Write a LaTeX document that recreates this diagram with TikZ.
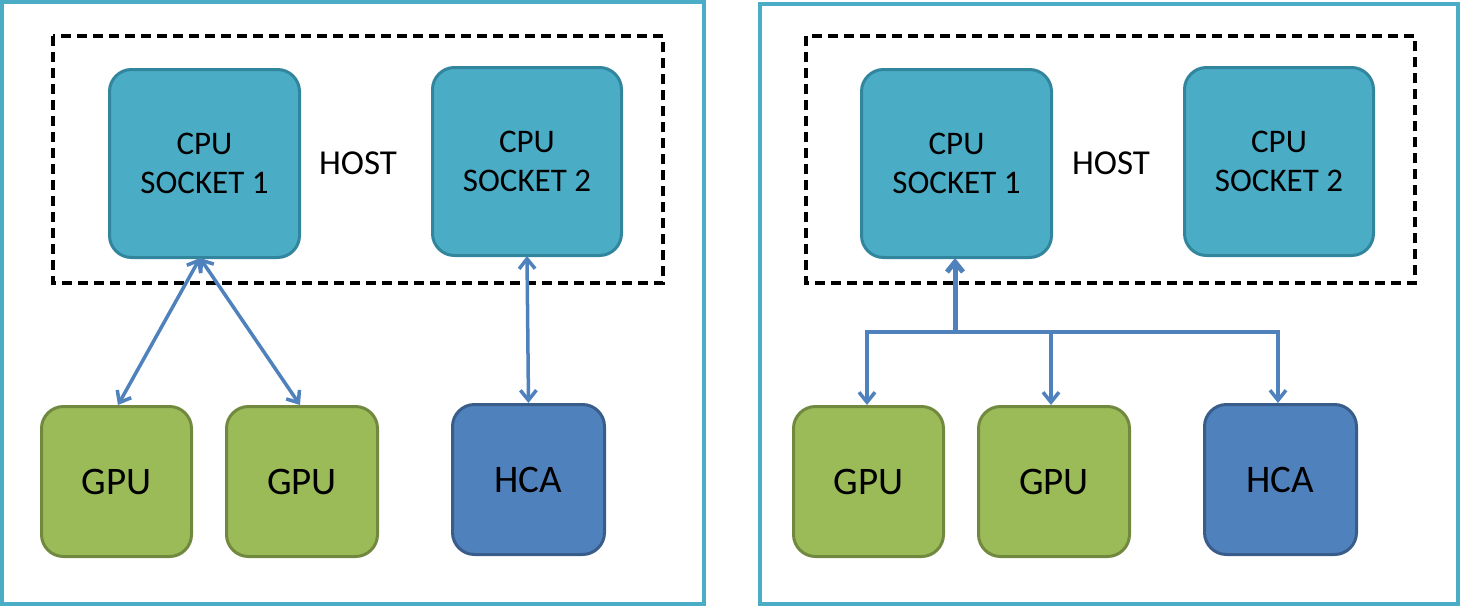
\documentclass[tikz,border=0pt]{standalone}
\usepackage{fontspec}
\setmainfont{Carlito}
\usetikzlibrary{arrows.meta}
\definecolor{frame}{RGB}{75,172,198}
\definecolor{cpuf}{RGB}{75,172,198}
\definecolor{cpud}{RGB}{49,133,156}
\definecolor{gpuf}{RGB}{155,187,89}
\definecolor{gpud}{RGB}{113,137,63}
\definecolor{hcaf}{RGB}{79,129,189}
\definecolor{hcad}{RGB}{56,93,138}
\definecolor{arr}{RGB}{79,129,189}
\begin{document}
\begin{tikzpicture}[x=1pt,y=-1pt,
  box/.style={draw,line width=3pt,rounded corners=22pt,anchor=north west,inner sep=0pt},
  cpu/.style={box,fill=cpuf,draw=cpud},
  gpu/.style={box,fill=gpuf,draw=gpud},
  hca/.style={box,fill=hcaf,draw=hcad},
  ctext/.style={align=center,font=\fontsize{33}{39}\selectfont},
  btext/.style={font=\fontsize{39}{44}\selectfont},
  fr/.style={draw=frame,line width=3.5pt},
  host/.style={draw,line width=3.5pt,dash pattern=on 10pt off 6pt},
  link/.style={draw=arr,line width=3.5pt,{Straight Barb[length=10pt,width=16pt]}-{Straight Barb[length=10pt,width=16pt]}},
  down/.style={draw=arr,line width=3.5pt,-{Straight Barb[length=10pt,width=16pt]}},
  lbl/.style={font=\fontsize{35}{40}\selectfont}]
\useasboundingbox (0,0) rectangle (1460,606);
\draw[fr] (2,2) rectangle (704,604);
\draw[fr] (760,4) rectangle (1458,604);
% left
\draw[host] (53,36) rectangle (663,283);
\node[cpu,minimum width=190pt,minimum height=188pt] (c1) at (108,68) {};
\node[ctext] at (c1.center) {CPU\\SOCKET 1};
\node[cpu,minimum width=189pt,minimum height=188pt] (c2) at (431,66) {};
\node[ctext] at (c2.center) {CPU\\SOCKET 2};
\node[lbl] (h1) at (358,163) {HOST};
\node[gpu,minimum width=150pt,minimum height=150pt] (g1) at (40,405) {};
\node[btext] at (g1.center) {GPU};
\node[gpu,minimum width=151pt,minimum height=150pt] (g2) at (225,405) {};
\node[btext] at (g2.center) {GPU};
\node[hca,minimum width=152pt,minimum height=150pt] (hc) at (451,403) {};
\node[btext] at (hc.center) {HCA};
\coordinate (c1b) at (200,258);
\draw[link] (c1b) -- (118,405);
\draw[link] (c1b) -- (300,405);
\draw[link] (527,256) -- (hc.north);
% right
\draw[host] (806,36) rectangle (1415,283);
\node[cpu,minimum width=190pt,minimum height=188pt] (d1) at (860,68) {};
\node[ctext] at (d1.center) {CPU\\SOCKET 1};
\node[cpu,minimum width=189pt,minimum height=188pt] (d2) at (1183,66) {};
\node[ctext] at (d2.center) {CPU\\SOCKET 2};
\node[lbl] (h2) at (1111,163) {HOST};
\node[gpu,minimum width=150pt,minimum height=150pt] (k1) at (792,405) {};
\node[btext] at (k1.center) {GPU};
\node[gpu,minimum width=151pt,minimum height=150pt] (k2) at (977,405) {};
\node[btext] at (k2.center) {GPU};
\node[hca,minimum width=152pt,minimum height=150pt] (hd) at (1203,403) {};
\node[btext] at (hd.center) {HCA};
\coordinate (j) at (955,332);
\draw[down,line width=5pt] (j) -- (955,258);
\draw[down] (j) -| (867,405);
\draw[down] (j) -| (1051,405);
\draw[down] (j) -| (1278,403);
\end{tikzpicture}
\end{document}
